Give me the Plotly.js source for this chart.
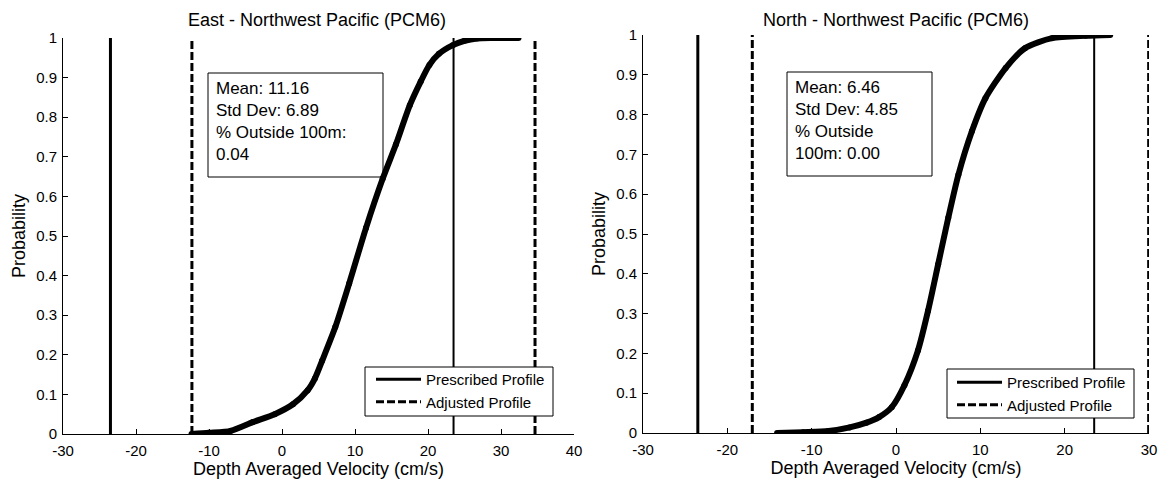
<!DOCTYPE html>
<html>
<head>
<meta charset="utf-8">
<script src="https://cdn.plot.ly/plotly-3.0.1.min.js"></script>
<style>
  html, body { margin: 0; padding: 0; background: #fff; }
  #chart { width: 1166px; height: 481px; }
</style>
</head>
<body>
<div id="chart"></div>
<script>
// ---- data ----
const eastVelocity = [-12.4, -10, -7, -4, -1, 1.5, 3.5, 4.5, 5.5, 7.3, 9.2, 11.5, 13.8, 15.6, 17.5, 19, 20.2, 21.5, 23.4, 25, 26.7, 29, 32.4];
const eastProb     = [0, 0.003, 0.008, 0.03, 0.05, 0.075, 0.11, 0.14, 0.185, 0.27, 0.38, 0.52, 0.645, 0.731, 0.83, 0.89, 0.932, 0.96, 0.982, 0.993, 0.999, 1.0, 1.0];

const northVelocity = [-14.1, -11, -8, -5.5, -3.5, -2, -0.5, 1, 2.6, 3.8, 5, 6.2, 7.4, 9, 10.6, 13, 15.3, 18.5, 22.5, 25.4];
const northProb     = [0, 0.002, 0.005, 0.014, 0.026, 0.04, 0.065, 0.12, 0.207, 0.307, 0.424, 0.541, 0.649, 0.758, 0.841, 0.917, 0.967, 0.992, 0.998, 1.0];

const prescribedProfile = [-23.5, 23.5];      // both panels
const eastAdjusted  = [-12.34, 34.66];
const northAdjusted = [-17.04, 29.96];
const probSpan = [0, 1];

const eastTitle  = "East - Northwest Pacific (PCM6)";
const northTitle = "North - Northwest Pacific (PCM6)";
const eastStats  = ["Mean: 11.16", "Std Dev: 6.89", "% Outside 100m:", "0.04"];
const northStats = ["Mean: 6.46", "Std Dev: 4.85", "% Outside", "100m: 0.00"];
const legendNames = ["Prescribed Profile", "Adjusted Profile"];
const xLabel = "Depth Averaged Velocity (cm/s)";
const yLabel = "Probability";

const eastTickVals  = [-30, -20, -10, 0, 10, 20, 30, 40];
const eastTickText  = ["-30", "-20", "-10", "0", "10", "20", "30", "40"];
const northTickVals = [-30, -20, -10, 0, 10, 20, 30];
const northTickText = ["-30", "-20", "-10", "0", "10", "20", "30"];
const probTickVals  = [0, 0.1, 0.2, 0.3, 0.4, 0.5, 0.6, 0.7, 0.8, 0.9, 1];
const probTickText  = ["0", "0.1", "0.2", "0.3", "0.4", "0.5", "0.6", "0.7", "0.8", "0.9", "1"];

// ---- helpers ----
const W = 1166, H = 481;
const px = v => v / W;
const py = v => 1 - v / H;
const FONT = "Liberation Sans, Arial, Helvetica, sans-serif";
const DASH = "8px,3px";

function panelTraces(xa, ya, legendId, adjusted, vel, prob) {
  return [
    { x: [prescribedProfile[0], prescribedProfile[0]], y: probSpan, xaxis: xa, yaxis: ya,
      mode: "lines", line: { color: "#000", width: 3 }, name: legendNames[0],
      legend: legendId, showlegend: true, hoverinfo: "skip" },
    { x: [adjusted[0], adjusted[0], null, adjusted[1], adjusted[1]],
      y: [probSpan[0], probSpan[1], null, probSpan[0], probSpan[1]], xaxis: xa, yaxis: ya,
      mode: "lines", line: { color: "#000", width: 3, dash: DASH }, name: legendNames[1],
      legend: legendId, showlegend: true, hoverinfo: "skip" },
    { x: [prescribedProfile[1], prescribedProfile[1]], y: probSpan, xaxis: xa, yaxis: ya,
      mode: "lines", line: { color: "#000", width: 2 }, legend: legendId, showlegend: false, hoverinfo: "skip" },
    { x: vel, y: prob, xaxis: xa, yaxis: ya, mode: "lines+markers",
      line: { color: "#000", width: 6, shape: "spline", smoothing: 0.7 },
      marker: { color: "#000", size: 6 }, legend: legendId, showlegend: false }
  ];
}

const data = [
  ...panelTraces("x", "y", "legend", eastAdjusted, eastVelocity, eastProb),
  ...panelTraces("x2", "y2", "legend2", northAdjusted, northVelocity, northProb)
];

function xAxis(domain, range, vals, text, anchor) {
  return {
    domain: domain, range: range, anchor: anchor,
    tickmode: "array", tickvals: vals, ticktext: text,
    ticks: "inside", ticklen: 5, tickcolor: "#000", tickwidth: 1,
    ticklabelstandoff: 3,
    showline: true, linecolor: "#000", linewidth: 1, mirror: false,
    showgrid: false, zeroline: false,
    tickfont: { family: FONT, size: 15, color: "#000" },
    title: { text: xLabel, font: { family: FONT, size: 18, color: "#000" }, standoff: 3 },
    automargin: false, fixedrange: true
  };
}
function yAxis(domain, anchor) {
  return {
    domain: domain, range: [0, 1], anchor: anchor,
    tickmode: "array", tickvals: probTickVals, ticktext: probTickText,
    ticks: "inside", ticklen: 5, tickcolor: "#000", tickwidth: 1,
    ticklabelstandoff: 2,
    showline: true, linecolor: "#000", linewidth: 1, mirror: false,
    showgrid: false, zeroline: false,
    tickfont: { family: FONT, size: 15, color: "#000" },
    title: { text: yLabel, font: { family: FONT, size: 18, color: "#000" }, standoff: 5 },
    automargin: false, fixedrange: true
  };
}

function statsAnnotation(lines, x, y) {
  return { xref: "paper", yref: "paper", x: x, y: y, xanchor: "left", yanchor: "top",
    align: "left", showarrow: false, text: lines.join("<br>"),
    font: { family: FONT, size: 17, color: "#000" } };
}
function box(x0, y0, x1, y1, layer) {
  return { type: "rect", xref: "paper", yref: "paper", x0: px(x0), x1: px(x1), y0: py(y0), y1: py(y1),
    line: { color: "#000", width: 1 }, fillcolor: "#fff", layer: layer };
}

const layout = {
  width: W, height: H,
  margin: { l: 0, r: 0, t: 0, b: 0 },
  paper_bgcolor: "#fff", plot_bgcolor: "rgba(0,0,0,0)",
  font: { family: FONT, color: "#000" },
  title: { text: eastTitle, font: { family: FONT, size: 18, color: "#000" },
           x: px(317), xanchor: "center", xref: "paper", y: py(19.5), yanchor: "middle", yref: "container" },
  xaxis:  xAxis([px(63), px(574)], [-30, 40], eastTickVals, eastTickText, "y"),
  yaxis:  yAxis([py(434), py(38)], "x"),
  xaxis2: xAxis([px(643), px(1149)], [-30, 30], northTickVals, northTickText, "y2"),
  yaxis2: yAxis([py(433), py(35)], "x2"),
  legend:  { x: px(371), y: py(363), xanchor: "left", yanchor: "top", bgcolor: "rgba(0,0,0,0)",
             borderwidth: 0, itemwidth: 45, font: { family: FONT, size: 15, color: "#000" } },
  legend2: { x: px(952), y: py(366), xanchor: "left", yanchor: "top", bgcolor: "rgba(0,0,0,0)",
             borderwidth: 0, itemwidth: 45, font: { family: FONT, size: 15, color: "#000" } },
  shapes: [
    box(208, 73, 383, 177, "below"),
    box(787, 72, 932, 176, "below"),
    box(365, 367, 553, 416, "above"),
    box(947, 369, 1134, 418, "above")
  ],
  annotations: [
    { xref: "paper", yref: "paper", x: px(896), y: py(19.5), xanchor: "center", yanchor: "middle",
      showarrow: false, text: northTitle, font: { family: FONT, size: 18, color: "#000" } },
    statsAnnotation(eastStats, px(214), py(77)),
    statsAnnotation(northStats, px(793), py(76))
  ],
  showlegend: true
};

Plotly.newPlot("chart", data, layout, { staticPlot: true, displayModeBar: false });
</script>
</body>
</html>
